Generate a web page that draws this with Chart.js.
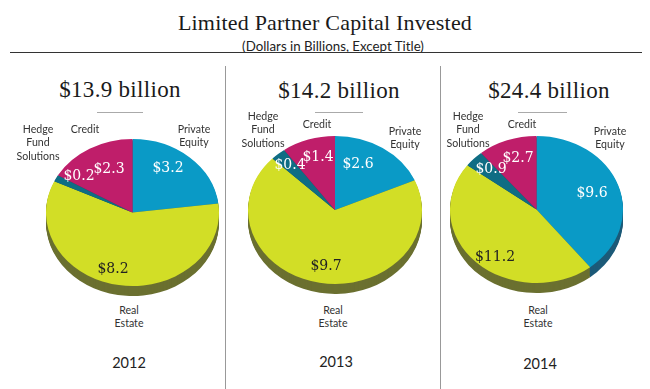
<!DOCTYPE html>
<html>
<head>
<meta charset="utf-8">
<title>Limited Partner Capital Invested</title>
<script src="https://cdn.jsdelivr.net/npm/chart.js@4/dist/chart.umd.js"></script>
<style>
  html, body { margin: 0; padding: 0; background: #fff; }
  #page { position: relative; width: 650px; height: 389px; overflow: hidden; }
  #page canvas { position: absolute; }
  .t { position: absolute; transform: translate(-50%, -50%); white-space: pre; text-align: center; }
  .title { font: 22px "Liberation Serif", serif; color: #1a1a1a; letter-spacing: 0.2px; }
  .sub { font: 13.3px Lato, sans-serif; color: #222; }
  .total { font: 23px "Liberation Serif", serif; color: #1a1a1a; letter-spacing: 0.3px; }
  .cat { font: 10.6px/13.4px Lato, sans-serif; color: #333; }
  .year { font: 14.5px Lato, sans-serif; color: #222; }
  .val { font: 14px "DejaVu Serif", serif; }
  .rule { position: absolute; }
</style>
</head>
<body>
<div id="page"></div>
<script>
const years = ["2012", "2013", "2014"]
const totals = ["$13.9 billion", "$14.2 billion", "$24.4 billion"]
const categories = ["Private Equity", "Real Estate", "Hedge Fund Solutions", "Credit"]
const values2012 = [3.2, 8.2, 0.2, 2.3]
const values2013 = [2.6, 9.7, 0.4, 1.4]
const values2014 = [9.6, 11.2, 0.9, 2.7]

const sliceColors = ["#0a9ac6", "#d2de26", "#0f6d84", "#bf1e6a"]
const sideColors = ["#1c5a78", "#6b7030", "#0b4a5a", "#7a1445"]
const valueColors = ["#fff", "#222", "#fff", "#fff"]

// layout per panel: pie box and where the texts sit
const panels = [
  {
    values: values2012, left: 46, top: 126, size: 173,
    totalAt: [120, 90], ruleAt: [97, 143], yearAt: [129, 362],
    catAt: [[194, 136], [129, 317], [38, 143], [85, 130]],
    valAt: [[168, 167], [113, 268], [79, 175], [109, 168]]
  },
  {
    values: values2013, left: 248, top: 123, size: 174,
    totalAt: [339, 91], ruleAt: [315, 363], yearAt: [336, 361],
    catAt: [[405, 138], [333, 317], [263, 130], [317, 125]],
    valAt: [[358, 163], [326, 265], [290, 164], [318, 156]]
  },
  {
    values: values2014, left: 450, top: 123, size: 173,
    totalAt: [549, 91], ruleAt: [518, 567], yearAt: [540, 363],
    catAt: [[610, 138], [538, 317], [468, 130], [522, 125]],
    valAt: [[592, 192], [495, 256], [491, 168], [518, 157]]
  }
]

const squash = 0.85
const depth = 10

const page = document.getElementById("page")

function put(text, x, y, cls, color) {
  const el = document.createElement("div")
  el.className = "t " + cls
  el.textContent = text
  el.style.left = x + "px"
  el.style.top = y + "px"
  if (color) el.style.color = color
  page.appendChild(el)
}

function rule(x, y, w, h, color) {
  const el = document.createElement("div")
  el.className = "rule"
  el.style.cssText = `left:${x}px;top:${y}px;width:${w}px;height:${h}px;background:${color}`
  page.appendChild(el)
}

// flattens the pie to an ellipse and paints the rim under it
const tiltPlugin = {
  id: "tilt",
  beforeDatasetsDraw(chart) {
    const ctx = chart.ctx
    const arcs = chart.getDatasetMeta(0).data
    const cx = arcs[0].x
    const cy = arcs[0].y
    ctx.save()
    ctx.translate(cx, cy)
    ctx.scale(1, squash)
    ctx.translate(-cx, -cy)
    for (let d = depth; d > 0; d--) {
      arcs.forEach((arc, i) => {
        const y = cy + d / squash
        ctx.beginPath()
        ctx.moveTo(cx, y)
        ctx.arc(cx, y, arc.outerRadius, arc.startAngle, arc.endAngle)
        ctx.closePath()
        ctx.fillStyle = sideColors[i]
        ctx.fill()
      })
    }
  },
  afterDatasetsDraw(chart) {
    chart.ctx.restore()
  }
}

put("Limited Partner Capital Invested", 325, 23, "title")
put("(Dollars in Billions, Except Title)", 333, 46, "sub")
rule(10, 52, 632, 1, "#333")
rule(225, 66, 1, 323, "#999")
rule(440, 66, 1, 323, "#999")

const catLines = ["Private\nEquity", "Real\nEstate", "Hedge\nFund\nSolutions", "Credit"]

panels.forEach((p, n) => {
  const canvas = document.createElement("canvas")
  canvas.width = p.size
  canvas.height = p.size
  canvas.style.left = p.left + "px"
  canvas.style.top = p.top + "px"
  page.appendChild(canvas)

  new Chart(canvas, {
    type: "pie",
    data: {
      labels: categories,
      datasets: [{
        data: p.values,
        backgroundColor: sliceColors,
        borderWidth: 0,
        clip: false
      }]
    },
    options: {
      responsive: false,
      animation: false,
      layout: { padding: 0 },
      plugins: { legend: { display: false }, tooltip: { enabled: false } }
    },
    plugins: [tiltPlugin]
  })

  put(totals[n], p.totalAt[0], p.totalAt[1], "total")
  rule(p.ruleAt[0], 112, p.ruleAt[1] - p.ruleAt[0], 1, "#aaa")
  put(years[n], p.yearAt[0], p.yearAt[1], "year")
  categories.forEach((c, i) => {
    put(catLines[i], p.catAt[i][0], p.catAt[i][1], "cat")
    put("$" + p.values[i].toFixed(1), p.valAt[i][0], p.valAt[i][1], "val", valueColors[i])
  })
})
</script>
</body>
</html>
